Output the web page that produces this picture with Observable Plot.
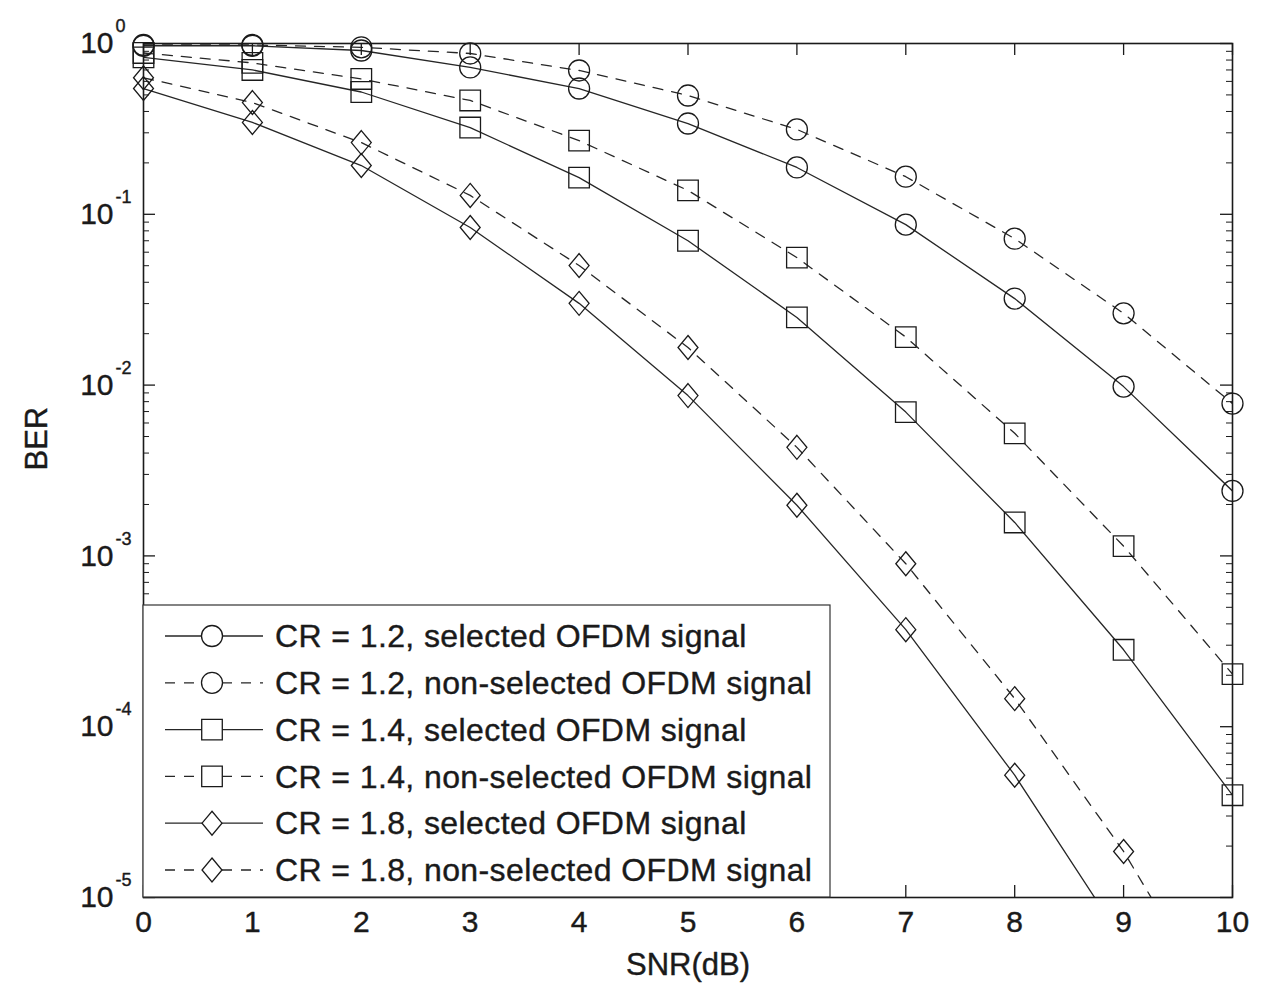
<!DOCTYPE html>
<html>
<head>
<meta charset="utf-8">
<script src="https://cdn.jsdelivr.net/npm/d3@7"></script>
<script src="https://cdn.jsdelivr.net/npm/@observablehq/plot@0.6"></script>
<style>
  html, body { margin: 0; padding: 0; background: #fff; }
  #chart { width: 1272px; height: 985px; }
</style>
</head>
<body>
<div id="chart"></div>
<script>
// ---------- data ----------
const snr = [0, 1, 2, 3, 4, 5, 6, 7, 8, 9, 10];

const cr12Selected    = [0.97, 0.97, 0.91, 0.724, 0.545, 0.34, 0.188, 0.087, 0.0321, 0.0098, 0.0024];
const cr12NonSelected = [0.98, 0.98, 0.95, 0.874, 0.695, 0.496, 0.314, 0.166, 0.072, 0.0263, 0.0078];
const cr14Selected    = [0.83, 0.70, 0.52, 0.322, 0.164, 0.070, 0.0249, 0.00695, 0.00157, 0.000282, 0.0000397];
const cr14NonSelected = [0.88, 0.77, 0.62, 0.464, 0.27, 0.138, 0.0558, 0.0191, 0.00522, 0.00114, 0.000203];
const cr18Selected    = [0.545, 0.345, 0.193, 0.0837, 0.0301, 0.00868, 0.00198, 0.00037, 0.000052, 0.0000055, 0.0000004];
const cr18NonSelected = [0.63, 0.451, 0.263, 0.129, 0.0501, 0.0166, 0.00432, 0.0009, 0.000146, 0.0000186, 0.0000016];

const seriesNames = [
  "CR = 1.2, selected OFDM signal",
  "CR = 1.2, non-selected OFDM signal",
  "CR = 1.4, selected OFDM signal",
  "CR = 1.4, non-selected OFDM signal",
  "CR = 1.8, selected OFDM signal",
  "CR = 1.8, non-selected OFDM signal"
];
const seriesValues = [cr12Selected, cr12NonSelected, cr14Selected, cr14NonSelected, cr18Selected, cr18NonSelected];
const seriesMarker = ["circle", "circle", "square", "square", "diamond", "diamond"];
const seriesSelected = [true, false, true, false, true, false];

const xTicks = snr;
const yTicks = [1, 0.1, 0.01, 0.001, 0.0001, 0.00001];
const yTickExponents = ["0", "-1", "-2", "-3", "-4", "-5"];
const xLabel = "SNR(dB)";
const yLabel = "BER";

// ---------- symbols ----------
const symbols = {
  circle: { draw(ctx, size) { const r = Math.sqrt(size / Math.PI); ctx.moveTo(r, 0); ctx.arc(0, 0, r, 0, 2 * Math.PI); } },
  square: { draw(ctx, size) { const r = Math.sqrt(size / Math.PI) * 0.98; ctx.moveTo(-r, -r); ctx.lineTo(r, -r); ctx.lineTo(r, r); ctx.lineTo(-r, r); ctx.closePath(); } },
  diamond: { draw(ctx, size) { const r = Math.sqrt(size / Math.PI) * 0.95; const h = r * 1.2; ctx.moveTo(0, -h); ctx.lineTo(r, 0); ctx.lineTo(0, h); ctx.lineTo(-r, 0); ctx.closePath(); } }
};

// ---------- table ----------
const rows = seriesNames.flatMap((name, i) =>
  snr.map((x, j) => ({ name, x, y: seriesValues[i][j], marker: seriesMarker[i], selected: seriesSelected[i] }))
);

// minor ticks of the log axis
const minorY = [];
for (let e = -5; e < 0; e++) for (let k = 2; k <= 9; k++) minorY.push(k * Math.pow(10, e));

const W = 1272, H = 985;
const mL = 143, mR = 40, mT = 43, mB = 88;
const fW = W - mL - mR, fH = H - mT - mB;
const ink = "#1a1a1a";
const lineInk = "#262626";
const font = "Liberation Sans, Arial, Helvetica, sans-serif";
const textStroke = { stroke: ink, strokeWidth: 0.4 };

const marks = [
  // lines
  Plot.line(rows.filter(d => d.selected), { x: "x", y: "y", z: "name", stroke: lineInk, strokeWidth: 1.3, clip: true }),
  Plot.line(rows.filter(d => !d.selected), { x: "x", y: "y", z: "name", stroke: lineInk, strokeWidth: 1.3, strokeDasharray: "10,9", clip: true }),
  // markers
  ...["circle", "square", "diamond"].map(m =>
    Plot.dot(rows.filter(d => d.marker === m && d.y >= 1e-5), { x: "x", y: "y", symbol: symbols[m], r: 10.5, stroke: ink, strokeWidth: 1.3, fill: "none" })
  ),
  // frame
  Plot.frame({ stroke: ink, strokeWidth: 1.6 }),
  // inward ticks: x bottom / top
  Plot.tickX(xTicks, { x: d => d, insetTop: fH - 12, stroke: ink, strokeWidth: 1.3 }),
  Plot.tickX(xTicks, { x: d => d, insetBottom: fH - 12, stroke: ink, strokeWidth: 1.3 }),
  // inward ticks: y major left/right
  Plot.tickY(yTicks, { y: d => d, insetRight: fW - 12, stroke: ink, strokeWidth: 1.3 }),
  Plot.tickY(yTicks, { y: d => d, insetLeft: fW - 12, stroke: ink, strokeWidth: 1.3 }),
  // minor
  Plot.tickY(minorY, { y: d => d, insetRight: fW - 6, stroke: ink, strokeWidth: 1 }),
  Plot.tickY(minorY, { y: d => d, insetLeft: fW - 6, stroke: ink, strokeWidth: 1 }),
  // x tick labels
  Plot.text(xTicks, { x: d => d, text: d => String(d), frameAnchor: "bottom", lineAnchor: "middle", dy: 25, fontSize: 30, fill: ink, ...textStroke }),
  // y tick labels: base + exponent
  Plot.text(yTicks, { y: d => d, text: () => "10", frameAnchor: "left", dx: -30, textAnchor: "end", fontSize: 30, fill: ink, ...textStroke }),
  Plot.text(yTicks, { y: d => d, text: (d, i) => yTickExponents[i], frameAnchor: "left", dx: -28, dy: -17, textAnchor: "start", fontSize: 18, fill: ink, ...textStroke }),
  // axis titles
  Plot.text([xLabel], { frameAnchor: "bottom", lineAnchor: "middle", dy: 68, fontSize: 31, fill: ink, ...textStroke }),
  Plot.text([yLabel], { frameAnchor: "left", lineAnchor: "middle", dx: -106, rotate: -90, fontSize: 31, fill: ink, ...textStroke })
];

const chart = Plot.plot({
  width: W, height: H,
  marginLeft: mL, marginRight: mR, marginTop: mT, marginBottom: mB,
  style: { fontFamily: font, background: "#fff", color: ink, overflow: "visible" },
  x: { domain: [0, 10], axis: null },
  y: { type: "log", domain: [1e-5, 1], axis: null },
  marks
});

document.getElementById("chart").appendChild(chart);

// ---------- legend (inside plot, bottom-left) ----------
const svg = d3.select(chart);
const legW = 687, rowH = 46.8, legH = 292;
const lg = svg.append("g").attr("transform", `translate(${mL},${mT + fH - legH})`);
lg.append("rect").attr("width", legW).attr("height", legH).attr("fill", "#fff").attr("stroke", "#333").attr("stroke-width", 1.2);
seriesNames.forEach((name, i) => {
  const y = 31 + i * rowH;
  const row = lg.append("g").attr("transform", `translate(0,${y})`);
  row.append("line").attr("x1", 22).attr("x2", 120).attr("y1", 0).attr("y2", 0)
    .attr("stroke", lineInk).attr("stroke-width", 1.3)
    .attr("stroke-dasharray", seriesSelected[i] ? null : "10,9");
  row.append("path")
    .attr("d", d3.symbol(symbols[seriesMarker[i]], Math.PI * 10.5 * 10.5)())
    .attr("transform", "translate(69,0)")
    .attr("fill", "#fff").attr("stroke", ink).attr("stroke-width", 1.3);
  row.append("text").attr("x", 132).attr("y", 0).attr("dy", "0.35em")
    .attr("text-anchor", "start")
    .attr("font-size", 32).attr("letter-spacing", 0.4)
    .attr("stroke", ink).attr("stroke-width", 0.4)
    .attr("font-family", font).attr("fill", ink).text(name);
});
</script>
</body>
</html>
